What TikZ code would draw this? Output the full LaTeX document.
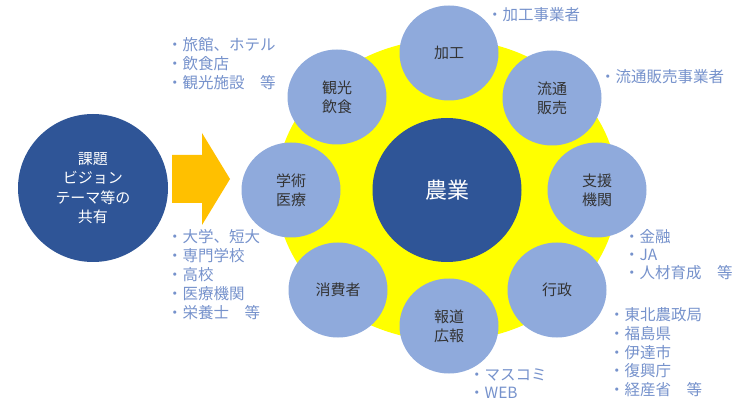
\documentclass[tikz,border=0pt]{standalone}
\usepackage{fontspec}
\newfontfamily\jp{Noto Sans CJK JP}
\usetikzlibrary{shapes.geometric}
\definecolor{darkblue}{HTML}{2F5597}
\definecolor{lightblue}{HTML}{8FAADC}
\definecolor{ringyellow}{HTML}{FFFF00}
\definecolor{arroworange}{HTML}{FFC000}
\definecolor{labelblue}{RGB}{118,146,204}
\definecolor{circtext}{HTML}{333333}
\begin{document}
\begin{tikzpicture}[x=1pt,y=-1pt,
  every node/.style={font=\jp},
  smallc/.style={ellipse, fill=lightblue, minimum width=99pt, minimum height=95pt, inner sep=0pt, align=center, text=circtext, font=\jp\fontsize{15}{19}\selectfont},
  bigc/.style={ellipse, fill=darkblue, inner sep=0pt, align=center, text=white},
  lbl/.style={anchor=base west, inner sep=0pt, align=left, text=labelblue, font=\jp\fontsize{15.5}{19}\selectfont}
]
\useasboundingbox[fill=white] (0,0) rectangle (748,401);
% ring background
\node[ellipse, fill=ringyellow, minimum width=342pt, minimum height=302pt, inner sep=0pt] (ring) at (447,190) {};
\node[bigc, minimum width=149pt, minimum height=144pt, font=\jp\fontsize{22}{26}\selectfont] (nogyo) at (447,190) {農業};
% ring members
\node[smallc] (kako) at (449,53) {加工};
\node[smallc] (ryutsu) at (552,98) {流通\\販売};
\node[smallc] (shien) at (597,190) {支援\\機関};
\node[smallc] (gyosei) at (557,290) {行政};
\node[smallc] (hodo) at (449,326) {報道\\広報};
\node[smallc] (shohi) at (338,290) {消費者};
\node[smallc] (gaku) at (291,190) {学術\\医療};
\node[smallc] (kanko) at (337,97) {観光\\飲食};
% left circle and arrow
\node[bigc, minimum width=150pt, minimum height=148pt, font=\jp\fontsize{15}{19.3}\selectfont] (kadai) at (93,188) {課題\\ビジョン\\テーマ等の\\共有};
\fill[arroworange] (172,155) -- (202,155) -- (202,133) -- (230,179) -- (202,225) -- (202,203) -- (172,203) -- cycle;
% labels (base anchor = baseline of last line)
\node[lbl] (lkanko) at (167,88.7) {・旅館、ホテル\\・飲食店\\・観光施設　等};
\node[lbl] (lkako) at (487,20.7) {・加工事業者};
\node[lbl] (lryutsu) at (600,82.7) {・流通販売事業者};
\node[lbl] (lgaku) at (167,318.7) {・大学、短大\\・専門学校\\・高校\\・医療機関\\・栄養士　等};
\node[lbl, font=\jp\fontsize{15.5}{18}\selectfont] (lshien) at (624,278.7) {・金融\\・JA\\・人材育成　等};
\node[lbl, font=\jp\fontsize{15.5}{18.75}\selectfont] (lgyosei) at (609,395.7) {・東北農政局\\・福島県\\・伊達市\\・復興庁\\・経産省　等};
\node[lbl, font=\jp\fontsize{15.5}{18}\selectfont] (lhodo) at (469,398.7) {・マスコミ\\・WEB};
\end{tikzpicture}
\end{document}
